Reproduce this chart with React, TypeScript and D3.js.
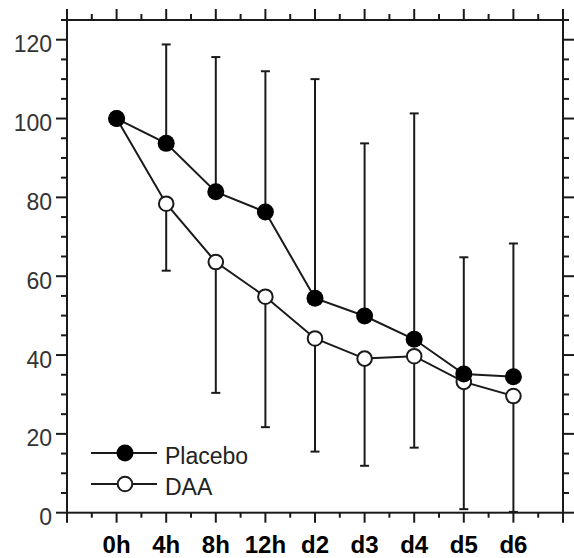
import React from "react";
import * as d3 from "d3";

// Time points (hours after dosing, then days)
const categories = ["0h", "4h", "8h", "12h", "d2", "d3", "d4", "d5", "d6"];

// Placebo group: mean and upper error limit
const placeboMean = [100, 93.7, 81.4, 76.3, 54.4, 49.9, 44.0, 35.2, 34.5];
const placeboUpper = [null, 118.8, 115.6, 112.0, 110.0, 93.7, 101.3, 64.8, 68.3];

// DAA group: mean and lower error limit
const daaMean = [100, 78.4, 63.6, 54.8, 44.2, 39.1, 39.7, 33.2, 29.6];
const daaLower = [null, 61.4, 30.4, 21.7, 15.5, 11.9, 16.5, 0.9, 0.2];

const yMajorTicks = [0, 20, 40, 60, 80, 100, 120];

const legendItems = [
  { label: "Placebo", filled: true },
  { label: "DAA", filled: false },
];

const W = 574;
const H = 558;
const FRAME = { left: 67, right: 563, top: 20, bottom: 512.7 };
const INK = "#1a1a1a";
const FONT = "'Liberation Sans', Arial, Helvetica, sans-serif";

export default function App() {
  const x = d3.scaleLinear().domain([-1, categories.length]).range([FRAME.left, FRAME.right]);
  const y = d3.scaleLinear().domain([0, 125]).range([FRAME.bottom, FRAME.top]);

  const xMajor = d3.range(-1, categories.length + 1);
  const xMinor = d3.range(-0.5, categories.length, 1);
  const yMinor = d3.range(0, 126, 5).filter((v) => v % 20 !== 0);

  const line = d3
    .line<number>()
    .x((_, i) => x(i))
    .y((d) => y(d));

  const majorLen = 11;
  const minorLen = 6;
  const sw = 2;
  const cap = 4.5;

  const errorBars = (
    means: number[],
    limits: (number | null)[],
    key: string
  ) =>
    limits.map((lim, i) =>
      lim == null ? null : (
        <g key={`${key}-${i}`} stroke={INK} strokeWidth={sw}>
          <line x1={x(i)} x2={x(i)} y1={y(means[i])} y2={y(lim)} />
          <line x1={x(i) - cap} x2={x(i) + cap} y1={y(lim)} y2={y(lim)} />
        </g>
      )
    );

  const marker = (cx: number, cy: number, filled: boolean, key: string) =>
    filled ? (
      <circle key={key} cx={cx} cy={cy} r={8.5} fill="#000" />
    ) : (
      <circle key={key} cx={cx} cy={cy} r={7.3} fill="#fff" stroke={INK} strokeWidth={2} />
    );

  return (
    <svg
      width={W}
      height={H}
      style={{ position: "absolute", left: 0, top: 0, background: "#fff" }}
      fontFamily={FONT}
    >
      <rect width={W} height={H} fill="#fff" />

      {/* frame */}
      <g stroke={INK} strokeWidth={2} fill="none">
        <rect
          x={FRAME.left}
          y={FRAME.top}
          width={FRAME.right - FRAME.left}
          height={FRAME.bottom - FRAME.top}
        />
      </g>

      {/* horizontal axes ticks (top outward, bottom outward) */}
      <g stroke={INK} strokeWidth={2}>
        {xMajor.map((v) => (
          <g key={`xM${v}`}>
            <line x1={x(v)} x2={x(v)} y1={FRAME.top} y2={FRAME.top - majorLen} />
            <line x1={x(v)} x2={x(v)} y1={FRAME.bottom} y2={FRAME.bottom + 10} />
          </g>
        ))}
        {xMinor.map((v) => (
          <g key={`xm${v}`}>
            <line x1={x(v)} x2={x(v)} y1={FRAME.top} y2={FRAME.top - minorLen} />
            <line x1={x(v)} x2={x(v)} y1={FRAME.bottom} y2={FRAME.bottom + 5} />
          </g>
        ))}
      </g>

      {/* vertical axes ticks (left outward, right outward) */}
      <g stroke={INK} strokeWidth={2}>
        {yMajorTicks.map((v) => (
          <g key={`yM${v}`}>
            <line x1={FRAME.left} x2={FRAME.left - majorLen} y1={y(v)} y2={y(v)} />
            <line x1={FRAME.right} x2={FRAME.right + majorLen} y1={y(v)} y2={y(v)} />
          </g>
        ))}
        {yMinor.map((v) => (
          <g key={`ym${v}`}>
            <line x1={FRAME.left} x2={FRAME.left - minorLen} y1={y(v)} y2={y(v)} />
            <line x1={FRAME.right} x2={FRAME.right + minorLen} y1={y(v)} y2={y(v)} />
          </g>
        ))}
      </g>

      {/* y tick labels */}
      <g fontSize={23} fill="#333" textAnchor="end">
        {yMajorTicks.map((v) => (
          <text key={`yl${v}`} x={52} y={y(v) + 12.6}>
            {v}
          </text>
        ))}
      </g>

      {/* x category labels */}
      <g fontSize={24} fontWeight="bold" fill="#000" textAnchor="middle">
        {categories.map((c, i) => (
          <text key={c} x={x(i)} y={552.5}>
            {c}
          </text>
        ))}
      </g>

      {/* error bars */}
      {errorBars(placeboMean, placeboUpper, "pe")}
      {errorBars(daaMean, daaLower, "de")}

      {/* series lines */}
      <path d={line(placeboMean) ?? ""} fill="none" stroke={INK} strokeWidth={sw} />
      <path d={line(daaMean) ?? ""} fill="none" stroke={INK} strokeWidth={sw} />

      {/* markers */}
      {daaMean.map((v, i) => marker(x(i), y(v), false, `dm${i}`))}
      {placeboMean.map((v, i) => marker(x(i), y(v), true, `pm${i}`))}

      {/* legend */}
      {legendItems.map((item, k) => {
        const ly = 453 + k * 31;
        return (
          <g key={item.label}>
            <line x1={91} x2={157} y1={ly} y2={ly} stroke={INK} strokeWidth={sw} />
            {marker(125, ly, item.filled, `lg${k}`)}
            <text x={165} y={ly + 10.5} fontSize={23} fill="#222">
              {item.label}
            </text>
          </g>
        );
      })}
    </svg>
  );
}
